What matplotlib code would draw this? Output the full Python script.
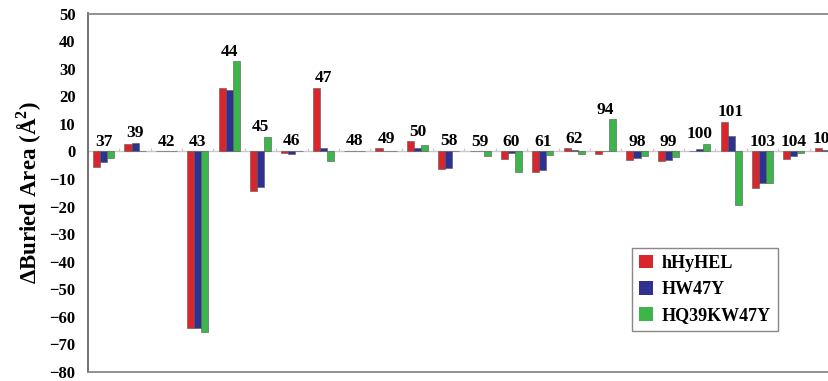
import numpy as np
import matplotlib.pyplot as plt

residues = ['37', '39', '42', '43', '44', '45', '46', '47', '48', '49', '50', '58',
            '59', '60', '61', '62', '94', '98', '99', '100', '101', '103', '104', '105']
hhyhel = [-5.5, 2.8, 0.0, -64.2, 23.0, -14.4, -0.7, 23.0, 0.0, 1.2, 3.6, -6.4,
          0.0, -2.7, -7.3, 1.2, -0.8, -3.0, -3.5, 0.3, 10.8, -13.3, -2.7, 1.2]
hw47y = [-4.0, 3.2, 0.0, -63.9, 22.4, -13.0, -1.0, 1.2, 0.3, 0.3, 1.2, -6.0,
         0.0, -0.5, -6.9, 0.5, 0.2, -2.5, -3.2, 1.0, 5.6, -11.5, -1.8, 0.5]
hq39kw47y = [-2.3, 0.0, 0.0, -65.5, 32.7, 5.2, 0.3, -3.4, 0.0, 0.0, 2.2, 0.3,
             -1.5, -7.3, -1.2, -1.1, 11.6, -1.5, -2.0, 2.8, -19.4, -11.5, -0.5, -2.0]

series = [('hHyHEL', hhyhel, '#d9262c'),
          ('HW47Y', hw47y, '#2e3192'),
          ('HQ39KW47Y', hq39kw47y, '#3cb54a')]

plt.rcParams['font.family'] = 'Liberation Serif'
plt.rcParams['font.weight'] = 'bold'
plt.rcParams['mathtext.fontset'] = 'custom'
plt.rcParams['mathtext.bf'] = 'Liberation Serif:bold'

fig = plt.figure(figsize=(8.29, 3.81), dpi=100)
ax = fig.add_axes([88 / 829, 9 / 381, 741 / 829, 358.5 / 381])

x = np.arange(len(residues))
w = 0.225
for k, (name, vals, col) in enumerate(series):
    ax.bar(x + (k - 1) * w, vals, w, color=col, edgecolor='#555555',
           linewidth=0.4, label=name, zorder=3)

# residue numbers sit just above the tallest bar of each group
tops = np.maximum(0, np.max([hhyhel, hw47y, hq39kw47y], axis=0))
for i, lab in enumerate(residues):
    ax.annotate(lab, (x[i], tops[i]), xytext=(0, 4), textcoords='offset points',
                ha='center', va='baseline', fontsize=12.5, fontweight='bold')

ax.axhline(0, color='#c8c8c8', linewidth=1, zorder=2)
ax.vlines(x[:-1] + 0.5, 0, 1.1, color='#c8c8c8', linewidth=0.8, zorder=2)

ax.set_ylim(-80, 50)
ax.set_xlim(-0.5, 23.12)
ax.set_yticks(range(-80, 51, 10))
ax.set_xticks([])
ax.tick_params(axis='y', length=0, pad=9, labelsize=12)
for t in ax.get_yticklabels():
    t.set_fontweight('bold')

ax.spines['right'].set_visible(False)
ax.spines['left'].set_color('#666666')
ax.spines['top'].set_color('#888888')
ax.spines['bottom'].set_color('#888888')
for s in ('left', 'top', 'bottom'):
    ax.spines[s].set_linewidth(1.3)

ax.set_ylabel('ΔBuried Area (Å$^\\mathbf{2}$)', fontsize=16.5, fontweight='bold', labelpad=4)

leg = ax.legend(loc='upper left', bbox_to_anchor=(0.734, 0.346), fancybox=False,
                edgecolor='#888888', framealpha=1, fontsize=13,
                handlelength=0.75, handleheight=0.75, handletextpad=0.5,
                labelspacing=0.5, borderpad=0.4, borderaxespad=0)
leg.get_frame().set_linewidth(1.0)
for h in leg.legend_handles:
    h.set_edgecolor('none')

fig.savefig('out.png', dpi=100)
